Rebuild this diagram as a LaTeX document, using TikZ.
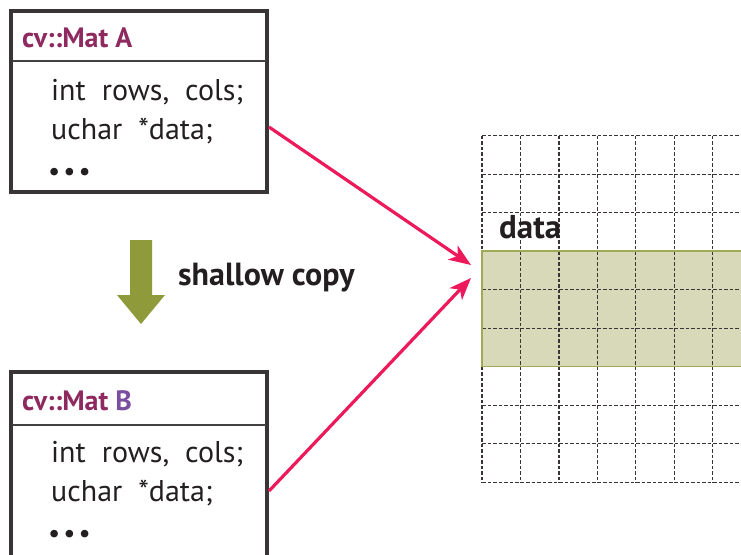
\documentclass[tikz,border=0pt]{standalone}
\usepackage{fontspec}
\setmainfont{PT Sans}
\usetikzlibrary{arrows.meta,shapes.arrows}
\definecolor{matpurple}{HTML}{8E2A5F}
\definecolor{bpurple}{HTML}{7A4FA0}
\definecolor{pinkred}{HTML}{EC1A5B}
\definecolor{olive}{HTML}{8F9B3A}
\definecolor{bandfill}{HTML}{D8D9B8}
\definecolor{bandline}{HTML}{A0AA55}
\definecolor{textdark}{HTML}{231F20}
\tikzset{
  x=1pt,y=-1pt,
  boxframe/.style={draw=textdark!90, line width=4.5pt},
  divider/.style={draw=textdark!85, line width=1.5pt},
  title/.style={anchor=base west, inner sep=0pt, font=\fontsize{28}{30}\selectfont\bfseries, text=matpurple},
  body/.style={anchor=base west, inner sep=0pt, font=\fontsize{30}{32}\selectfont, text=textdark},
  dots/.style={anchor=base west, inner sep=0pt, font=\fontsize{27}{29}\selectfont, text=textdark},
  ptr/.style={draw=pinkred, line width=3.2pt, -{Stealth[length=22pt,width=17pt,inset=6pt]}},
  gridline/.style={draw=textdark!90, line width=1.3pt, dash pattern=on 3.5pt off 2pt},
  bold/.style={inner sep=0pt, font=\fontsize{32}{34}\selectfont\bfseries, text=textdark},
}
\begin{document}
\begin{tikzpicture}
\useasboundingbox (0,0) rectangle (741,554);
% data band
\fill[bandfill] (482,251) rectangle (745,366.7);
% grid
\foreach \i in {0,...,7} {
  \draw[gridline] ({482+38.45*\i},135.7) -- ({482+38.45*\i},482.3);
}
\foreach \j in {0,...,9} {
  \draw[gridline] (482,{135.7+38.5*\j}) -- (745,{135.7+38.5*\j});
}
\draw[bandline, line width=1.4pt] (482,251) rectangle (745,366.7);
\node[bold, anchor=base west, font=\fontsize{33}{35}\selectfont\bfseries] (datalbl) at (499,238) {data};
\coordinate (tgtA) at (471,265);
\coordinate (tgtB) at (471,278);

% Box A
\draw[boxframe] (11,11) rectangle (267,192);
\draw[divider] (12,61) -- (266,61);
\node[title] (titleA) at (22,47) {cv::Mat A};
\node[body] (rowsA) at (51,100) {int\ \ rows,\ \ cols;};
\node[body] (dataA) at (51,139) {uchar\ \ *data;};
\node[dots] (dotsA) at (48,180) {•\hspace{3pt}•\hspace{3pt}•};
\coordinate (srcA) at (269,127);

% Box B
\draw[boxframe] (11,372) rectangle (267,600);
\draw[divider] (12,425) -- (266,425);
\node[title] (titleB) at (22,410) {cv::Mat \textcolor{bpurple}{B}};
\node[body] (rowsB) at (51,462) {int\ \ rows,\ \ cols;};
\node[body] (dataB) at (51,501) {uchar\ \ *data;};
\node[dots] (dotsB) at (48,542) {•\hspace{3pt}•\hspace{3pt}•};
\coordinate (srcB) at (269,491);

% pointers
\draw[ptr] (srcA) -- (tgtA);
\draw[ptr] (srcB) -- (tgtB);

% shallow copy arrow
\fill[olive] (130,240) -- (152,240) -- (152,295) -- (165,295) -- (141,324) -- (117,295) -- (130,295) -- cycle;
\node[bold, anchor=base west] (copylbl) at (178,285) {shallow copy};
\end{tikzpicture}
\end{document}
